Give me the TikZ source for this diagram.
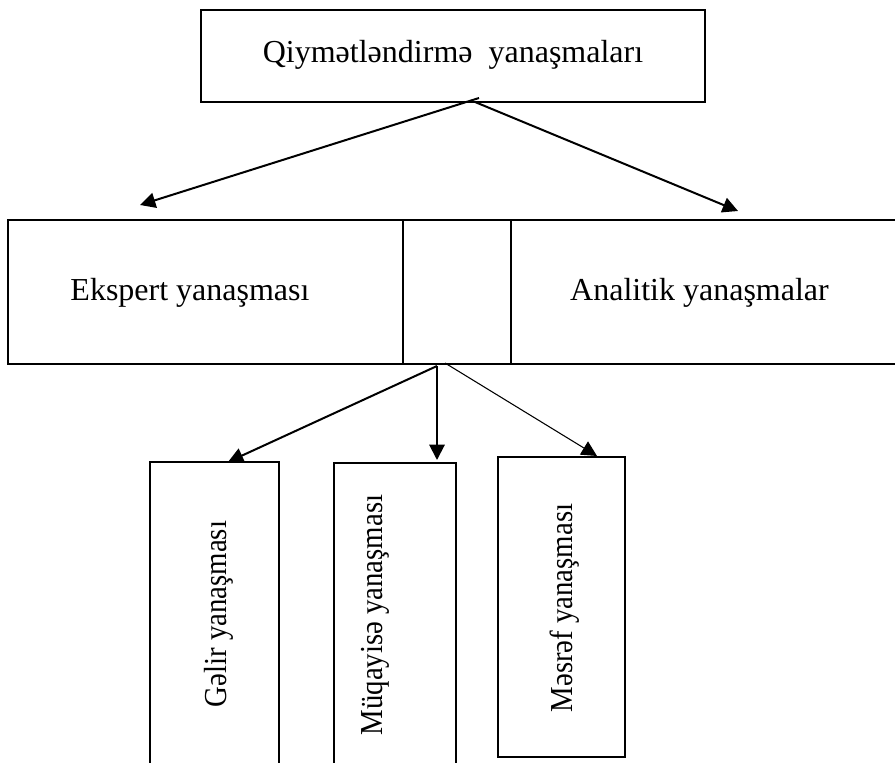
\documentclass[tikz,border=0pt]{standalone}
\usepackage{fontspec}
\setmainfont{Liberation Serif}
\usetikzlibrary{arrows.meta}
\newcommand{\vlabel}[1]{\scalebox{0.9}[1]{#1}}
\tikzset{
  every picture/.style={x=0.75pt,y=-0.75pt},
  block/.style={draw,line width=1.5pt,inner sep=0pt},
  boxtext/.style={font=\fontsize{24}{28}\selectfont,anchor=base,inner sep=0pt},
  sidetext/.style={boxtext,rotate=90},
  arrow/.style={line width=1.5pt,-{Triangle[length=11.5pt,width=11.5pt]}},
  thinarrow/.style={line width=0.8pt,-{Triangle[length=11.5pt,width=11.5pt]}},
}
\begin{document}
\begin{tikzpicture}
\useasboundingbox (0,0) rectangle (895,763);
\clip (0,0) rectangle (895,763);

\node[block,minimum width=378pt,minimum height=69pt] (qiymet) at (453,56) {};
\node[block,minimum width=296pt,minimum height=108pt] (ekspert) at (205.5,292) {};
\node[block,minimum width=81pt,minimum height=108pt] (gap) at (457,292) {};
\node[block,minimum width=289.5pt,minimum height=108pt] (analitik) at (704,292) {};
\node[block,minimum width=97pt,minimum height=240pt] (gelir) at (214.5,622) {};
\node[block,minimum width=92pt,minimum height=240pt] (muqayise) at (395,623) {};
\node[block,minimum width=95pt,minimum height=225pt] (mesref) at (561.5,607) {};

\node[boxtext] (qiymettext) at (453,63) {Qiymətləndirmə\ \ yanaşmaları};
\node[boxtext] (eksperttext) at (190,300) {Ekspert yanaşması};
\node[boxtext] (analitiktext) at (699.5,300) {Analitik yanaşmalar};
\node[sidetext] (gelirtext) at (226,614) {\vlabel{Gəlir yanaşması}};
\node[sidetext] (muqayisetext) at (382,615) {\vlabel{Müqayisə yanaşması}};
\node[sidetext] (mesreftext) at (572,608) {\vlabel{Məsrəf yanaşması}};

\draw[arrow] ([shift={(26,-5)}]qiymet.south) -- ([shift={(-65.5,-14)}]ekspert.north);
\draw[arrow] ([shift={(22,-1)}]qiymet.south) -- ([shift={(34,-8)}]analitik.north);
\draw[arrow] ([shift={(-20,1)}]gap.south) -- ([shift={(13.5,1)}]gelir.north);
\draw[arrow] ([shift={(-20,1)}]gap.south) -- ([shift={(42,-2)}]muqayise.north);
\draw[thinarrow] ([shift={(-12,-2)}]gap.south) -- ([shift={(35.5,0)}]mesref.north);
\end{tikzpicture}
\end{document}
